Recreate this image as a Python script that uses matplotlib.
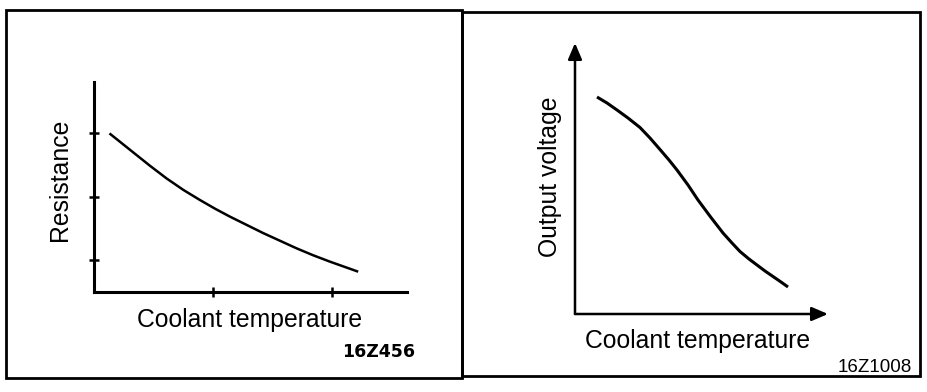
import matplotlib
matplotlib.use("Agg")
import matplotlib.pyplot as plt
from matplotlib.patches import Rectangle

W, H = 928, 392

# ---- data (arbitrary units) ----
left_temp = [0.13, 0.23, 0.33, 0.47, 0.61, 0.75, 0.89, 1.02, 1.14, 1.28, 1.42,
             1.56, 1.70, 1.84, 1.98, 2.10, 2.22]
left_resistance = [2.50, 2.35, 2.20, 1.99, 1.79, 1.61, 1.45, 1.31, 1.19, 1.06, 0.93,
                   0.81, 0.69, 0.58, 0.48, 0.40, 0.32]
left_xticks = [1, 2]
left_yticks = [0.5, 1.5, 2.5]

right_temp = [22, 32, 42, 53, 65, 75, 85, 94, 102, 113, 123, 136, 148, 157, 165,
              174, 182, 190, 198, 206, 213]
right_voltage = [217, 211, 204, 196, 186.5, 176, 164.5, 154, 144, 129, 114, 96.5, 81,
                 71, 62.5, 55, 49, 43, 37.5, 32, 27]

xlabel = "Coolant temperature"
left_ylabel = "Resistance"
right_ylabel = "Output voltage"
left_code = "16Z456"
right_code = "16Z1008"

plt.rcParams['font.family'] = ['Liberation Sans', 'DejaVu Sans']

fig = plt.figure(figsize=(W / 100, H / 100), dpi=100)
fig.patch.set_facecolor('white')


def fr(x0, y0, x1, y1):
    return [x0 / W, 1 - y1 / H, (x1 - x0) / W, (y1 - y0) / H]


def fx(x):
    return x / W


def fy(y):
    return 1 - y / H


# panel frames
fig.patches.append(Rectangle((fx(6), fy(378)), (462 - 6) / W, (378 - 10) / H,
                             transform=fig.transFigure, fill=False, lw=2.0, ec='black'))
fig.patches.append(Rectangle((fx(462), fy(376)), (920 - 462) / W, (376 - 12) / H,
                             transform=fig.transFigure, fill=False, lw=2.0, ec='black'))

# ---- left panel ----
axl = fig.add_axes(fr(94, 82, 407, 292))
axl.plot(left_temp, left_resistance, color='black', lw=1.8, solid_capstyle='butt',
         solid_joinstyle='round')
axl.set_xlim(0, 2.63)
axl.set_ylim(0, 3.31)
for s in ['top', 'right']:
    axl.spines[s].set_visible(False)
for s in ['left', 'bottom']:
    axl.spines[s].set_linewidth(2.2)
axl.set_xticks(left_xticks)
axl.set_yticks(left_yticks)
axl.tick_params(direction='inout', length=7, width=1.8, labelbottom=False, labelleft=False)
axl.patch.set_alpha(0)

fig.text(fx(250), fy(320), xlabel, ha='center', va='center', fontsize=17.8)
fig.text(fx(60), fy(180), left_ylabel, ha='center', va='center', fontsize=17.8, rotation=90)
fig.text(fx(379), fy(352), left_code, ha='center', va='center', fontsize=12.5,
         fontweight='bold', family=['DejaVu Sans'])

# ---- right panel ----
axr = fig.add_axes(fr(575, 43, 828, 314))
axr.plot(right_temp, right_voltage, color='black', lw=2.2, solid_capstyle='butt',
         solid_joinstyle='round')
axr.set_xlim(0, 253)
axr.set_ylim(0, 271)
axr.axis('off')
arrow = dict(arrowstyle='-|>,head_length=0.7,head_width=0.3', lw=1.8, color='black',
             shrinkA=0, shrinkB=0, mutation_scale=14)
axr.annotate('', xy=(253, 0), xytext=(0, 0), arrowprops=arrow, annotation_clip=False)
axr.annotate('', xy=(0, 271), xytext=(0, 0), arrowprops=arrow, annotation_clip=False)

fig.text(fx(698), fy(341), xlabel, ha='center', va='center', fontsize=17.8)
fig.text(fx(550), fy(177), right_ylabel, ha='center', va='center', fontsize=17.8, rotation=90)
fig.text(fx(875), fy(368), right_code, ha='center', va='center', fontsize=13.5)

fig.savefig("out.png", dpi=100, facecolor='white')
